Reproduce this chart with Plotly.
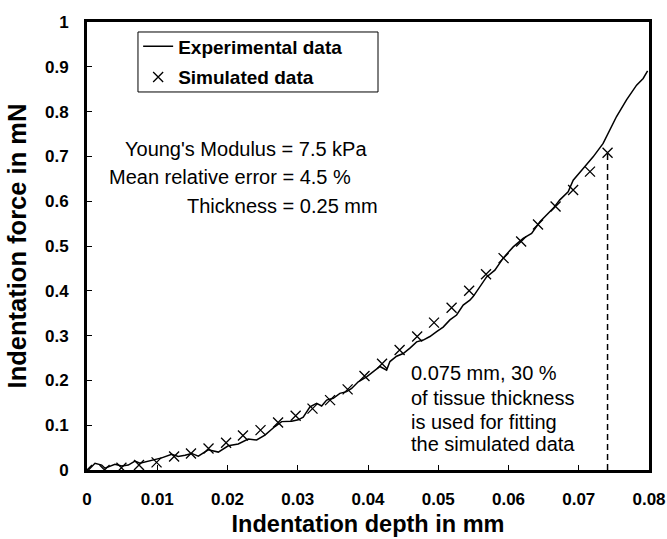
import plotly.graph_objects as go

# Experimental data (indentation depth in mm, force in mN)
exp_x = [0.0002, 0.00114, 0.00209, 0.00256, 0.00398, 0.00494, 0.00588, 0.00683, 0.00754, 0.00825,
         0.00944, 0.01063, 0.01205, 0.01299, 0.01395, 0.0149, 0.01584, 0.01726, 0.01869, 0.02011,
         0.02153, 0.02295, 0.02415, 0.02533, 0.02675, 0.02771, 0.02913, 0.03007, 0.03078, 0.03174,
         0.03269, 0.0334, 0.03411, 0.03505, 0.036, 0.03696, 0.03767, 0.03861, 0.0398, 0.04074,
         0.0417, 0.04265, 0.04312, 0.04407, 0.04501, 0.04597, 0.04692, 0.04786, 0.04881, 0.04977,
         0.0507, 0.05166, 0.05261, 0.05355, 0.0545, 0.05497, 0.05593, 0.05688, 0.05806, 0.05924,
         0.06067, 0.06209, 0.06329, 0.06447, 0.06636, 0.06731, 0.06849, 0.06921, 0.07063, 0.07205,
         0.07347, 0.07443, 0.07538, 0.0768, 0.07823, 0.07917, 0.0798]
exp_y = [0.0, 0.015, 0.011, 0.004, 0.013, 0.009, 0.011, 0.020, 0.015, 0.018,
         0.022, 0.027, 0.035, 0.030, 0.033, 0.037, 0.031, 0.045, 0.040, 0.054,
         0.058, 0.069, 0.067, 0.078, 0.097, 0.108, 0.109, 0.112, 0.118, 0.141,
         0.149, 0.143, 0.156, 0.160, 0.171, 0.175, 0.182, 0.197, 0.208, 0.219,
         0.231, 0.223, 0.242, 0.254, 0.260, 0.272, 0.286, 0.290, 0.298, 0.309,
         0.319, 0.335, 0.346, 0.368, 0.379, 0.387, 0.409, 0.431, 0.446, 0.473,
         0.498, 0.517, 0.528, 0.554, 0.584, 0.603, 0.621, 0.647, 0.673, 0.699,
         0.729, 0.759, 0.789, 0.826, 0.859, 0.874, 0.891]

# Simulated data
sim_x = [0.0, 0.0025, 0.0049, 0.0074, 0.0099, 0.0124, 0.0148, 0.0173, 0.0198, 0.0222,
         0.0247, 0.0272, 0.0297, 0.0321, 0.0346, 0.0371, 0.0395, 0.042, 0.0445, 0.047,
         0.0494, 0.0519, 0.0544, 0.0568, 0.0593, 0.0618, 0.0642, 0.0667, 0.0692, 0.0716,
         0.0741]
sim_y = [0.0, 0.0, 0.005, 0.011, 0.017, 0.030, 0.037, 0.048, 0.061, 0.077,
         0.089, 0.106, 0.121, 0.137, 0.156, 0.180, 0.210, 0.237, 0.268, 0.298,
         0.329, 0.362, 0.400, 0.437, 0.473, 0.510, 0.548, 0.588, 0.625, 0.666,
         0.708]

x_ticks = [0, 0.01, 0.02, 0.03, 0.04, 0.05, 0.06, 0.07, 0.08]
x_ticktext = ["0", "0.01", "0.02", "0.03", "0.04", "0.05", "0.06", "0.07", "0.08"]
y_ticks = [0, 0.1, 0.2, 0.3, 0.4, 0.5, 0.6, 0.7, 0.8, 0.9, 1.0]
y_ticktext = ["0", "0.1", "0.2", "0.3", "0.4", "0.5", "0.6", "0.7", "0.8", "0.9", "1"]

info_lines = ["Young's Modulus = 7.5 kPa", "Mean relative error = 4.5 %", "Thickness = 0.25 mm"]
note_lines = ["0.075 mm, 30 %", "of tissue thickness", "is used for fitting", "the simulated data"]

FONT = "Liberation Sans, Arial, sans-serif"

fig = go.Figure()
fig.add_trace(go.Scatter(x=exp_x, y=exp_y, mode="lines", name="Experimental data",
                         legendgroup="exp",
                         line=dict(color="black", width=1.5)))
fig.add_trace(go.Scatter(x=sim_x, y=sim_y, mode="markers", name="Simulated data",
                         legendgroup="sim",
                         marker=dict(symbol="x-thin", size=10, line=dict(color="black", width=1.3),
                                     color="black")))
# dashed marker line at the last fitted point
fig.add_trace(go.Scatter(x=[sim_x[-1], sim_x[-1]], y=[0, sim_y[-1]], mode="lines",
                         showlegend=False, hoverinfo="skip",
                         line=dict(color="black", width=1.5, dash="6px,4px")))

fig.update_xaxes(range=[0, 0.08], tickvals=x_ticks, ticktext=x_ticktext,
                 showline=True, linecolor="black", linewidth=3, mirror=True,
                 ticks="inside", ticklen=5, tickwidth=1, tickcolor="black",
                 showgrid=False, zeroline=False,
                 tickfont=dict(family=FONT, size=17, color="black", weight="bold"),
                 ticklabelstandoff=12,
                 title=dict(text="<b>Indentation depth in mm</b>", standoff=8,
                            font=dict(family=FONT, size=23.5, color="black")))
fig.update_yaxes(range=[0, 1], tickvals=y_ticks, ticktext=y_ticktext,
                 showline=True, linecolor="black", linewidth=3, mirror=True,
                 ticks="inside", ticklen=5, tickwidth=1, tickcolor="black",
                 showgrid=False, zeroline=False,
                 tickfont=dict(family=FONT, size=17, color="black", weight="bold"),
                 ticklabelstandoff=12,
                 title=dict(text="<b>Indentation force in mN</b>", standoff=12,
                            font=dict(family=FONT, size=25.5, color="black")))

annotations = []
info_x = [0.00515, 0.00288, 0.01395]
info_y = [0.717, 0.654, 0.589]
for t, ax_, ay_ in zip(info_lines, info_x, info_y):
    annotations.append(dict(x=ax_, y=ay_, xref="x", yref="y", text=t, showarrow=False,
                            xanchor="left", yanchor="middle",
                            font=dict(family=FONT, size=20, color="black")))
note_y = [0.216, 0.161, 0.107, 0.058]
for t, ay_ in zip(note_lines, note_y):
    annotations.append(dict(x=0.0458, y=ay_, xref="x", yref="y", text=t, showarrow=False,
                            xanchor="left", yanchor="middle",
                            font=dict(family=FONT, size=20, color="black")))

# legend frame
fig.add_shape(type="rect", xref="paper", yref="paper",
              x0=0.0907, x1=0.5178, y0=0.8438, y1=0.9777,
              line=dict(color="black", width=1), fillcolor="white", layer="above")

fig.update_layout(
    width=667, height=539,
    margin=dict(l=87, r=18, t=22, b=69, autoexpand=False),
    paper_bgcolor="white", plot_bgcolor="white",
    annotations=annotations,
    legend=dict(x=0.091, y=0.988, xanchor="left", yanchor="top",
                bgcolor="rgba(0,0,0,0)", borderwidth=0,
                font=dict(family=FONT, size=19, color="black", weight="bold"),
                tracegroupgap=3),
    showlegend=True,
)

fig.write_html("out.html")
